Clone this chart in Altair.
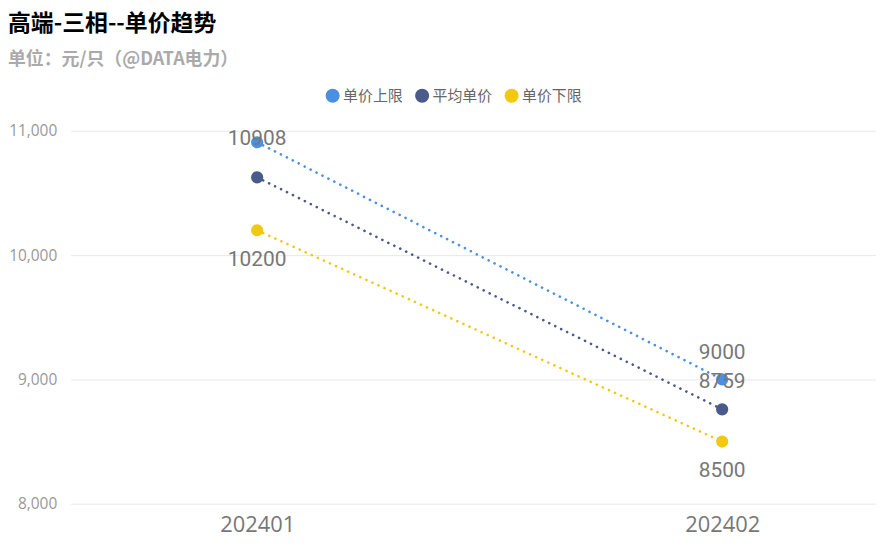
import altair as alt
import pandas as pd

periods = ["202401", "202402"]
series = ["单价上限", "平均单价", "单价下限"]
upper = [10908, 9000]
average = [10626, 8759]
lower = [10200, 8500]
colors = ["#4a90e2", "#4a5a8a", "#f2c811"]
y_ticks = [8000, 9000, 10000, 11000]

rows = []
for s, vals in zip(series, [upper, average, lower]):
    for p, v in zip(periods, vals):
        rows.append({"period": p, "series": s, "value": v})
df = pd.DataFrame(rows)

FONT = "Noto Sans CJK SC"

x = alt.X(
    "period:N", sort=periods, title=None,
    scale=alt.Scale(type="point", padding=0.366, align=0.548),
    axis=alt.Axis(labelAngle=0, labelFontSize=22, labelColor="#777", labelFont="Open Sans",
                  ticks=False, domain=False, grid=False, labelPadding=11),
)
y = alt.Y(
    "value:Q", title=None,
    scale=alt.Scale(domain=[8000, 11000], nice=False, zero=False),
    axis=alt.Axis(values=y_ticks, format=",.0f", labelFontSize=15.5, labelColor="#999",
                  labelFont="Open Sans", ticks=False, domain=False, gridColor="#e8e8e8",
                  labelPadding=14),
)
legend = alt.Legend(
    title=None, orient="none", legendX=256, legendY=-43, direction="horizontal",
    symbolType="circle", symbolSize=200, symbolStrokeWidth=0, symbolOpacity=1,
    labelFontSize=15, labelColor="#666", labelFont=FONT, columnPadding=11, labelOffset=3,
)
color = alt.Color("series:N", sort=series, scale=alt.Scale(domain=series, range=colors), legend=legend)

base = alt.Chart(df).encode(x=x, y=y)

lines = base.mark_line(strokeDash=[0.1, 6.6], strokeWidth=2.6, strokeCap="round").encode(
    color=color, detail="series:N")
points = base.mark_circle(size=150, opacity=1).encode(color=color)

lbl = dict(fontSize=21, color="#777", font="Roboto")
above = base.mark_text(dy=-27, **lbl).encode(text="value:Q").transform_filter(
    "datum.period == '202402' && datum.series != '单价下限'")
below = base.mark_text(dy=30, **lbl).encode(text="value:Q").transform_filter(
    "datum.series == '单价下限'")
first_up = base.mark_text(dy=-3, **lbl).encode(text="value:Q").transform_filter(
    "datum.period == '202401' && datum.series == '单价上限'")

chart = alt.layer(lines, points, above, below, first_up).properties(
    width=810, height=375,
    padding={"left": 63, "top": 122, "right": 0, "bottom": 40},
    autosize=alt.AutoSizeParams(type="none"),
    title=alt.TitleParams(
        text="高端-三相--单价趋势", subtitle="单位：元/只（@DATA电力）",
        anchor="start", frame="group", dx=-63, offset=19,
        font=FONT, fontSize=23, fontWeight="bold", color="#000",
        subtitleFont=FONT, subtitleFontSize=18, subtitleColor="#aaa",
        subtitleFontWeight="bold", subtitlePadding=15,
    ),
).configure_view(stroke=None)

chart.save("out.html", embed_options={"renderer": "svg", "actions": False})
